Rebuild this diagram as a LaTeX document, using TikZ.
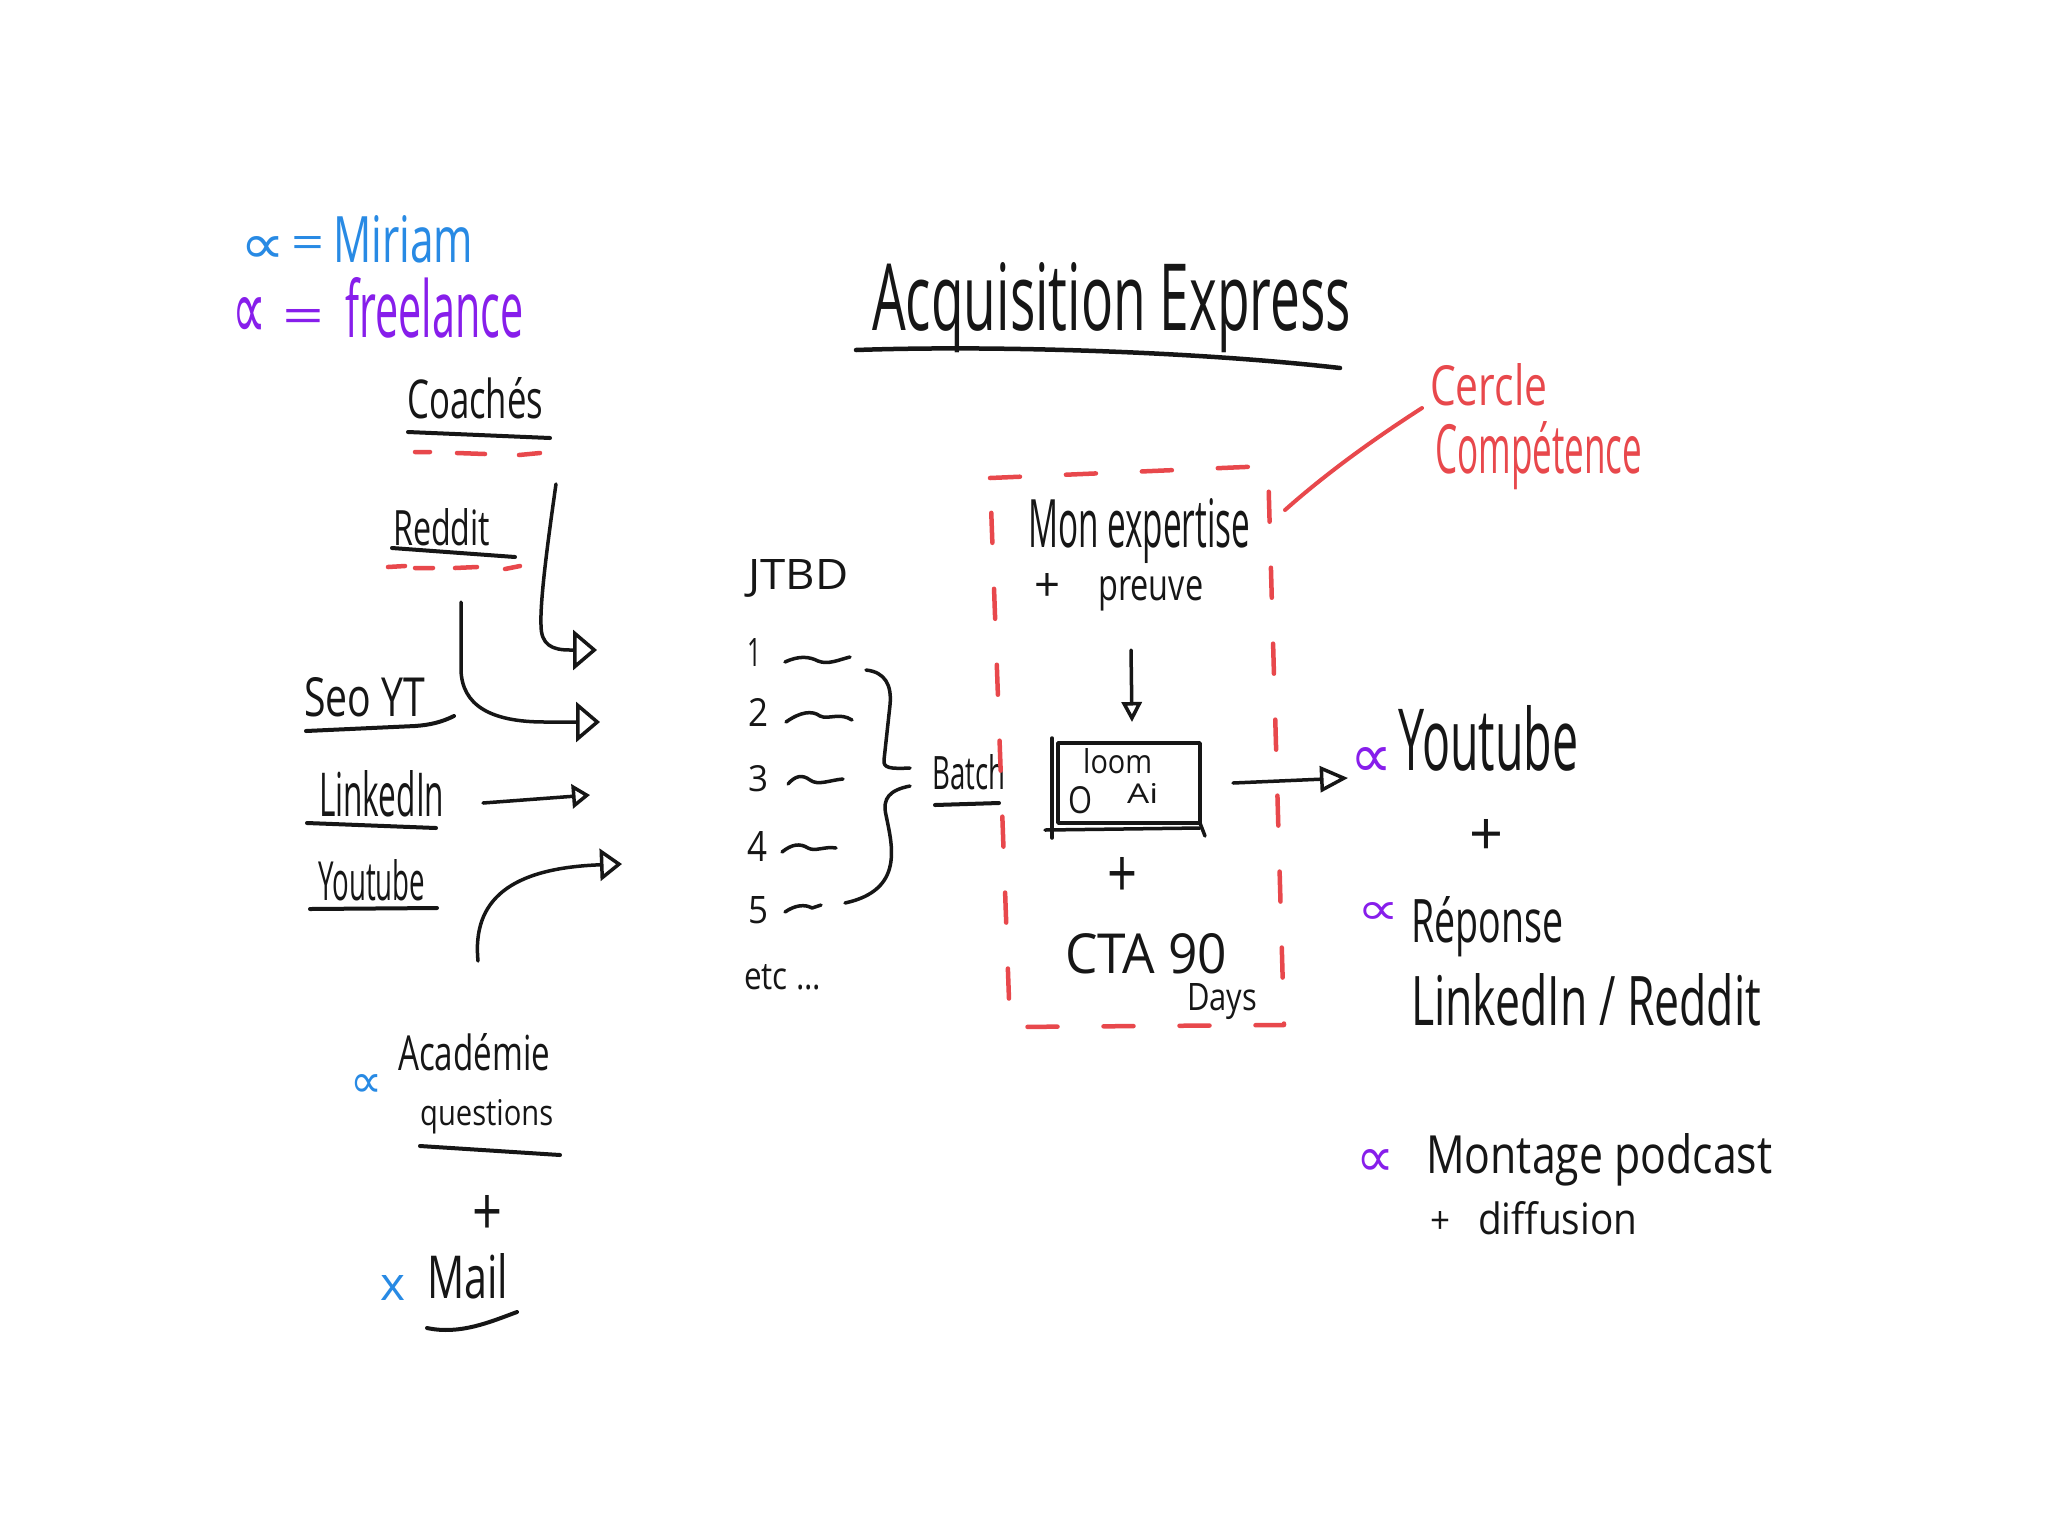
\documentclass[tikz,border=0pt]{standalone}
\usepackage{fontspec}
\setmainfont{Open Sans}
\newfontfamily\symf{DejaVu Sans}
\usepackage{graphicx}
\usetikzlibrary{arrows.meta}
\definecolor{inkblue}{RGB}{40,138,228}
\definecolor{inkpurple}{RGB}{135,30,235}
\definecolor{inkred}{RGB}{232,72,76}
\definecolor{ink}{RGB}{22,22,22}
\newcommand\hw[3]{\resizebox{#1pt}{#2pt}{#3}}
\begin{document}
\begin{tikzpicture}[x=1pt,y=-1pt,line cap=round,line join=round,
  txt/.style={inner sep=0pt,anchor=base west,text=ink},
  ctr/.style={inner sep=0pt,anchor=center,text=ink},
  pen/.style={draw=ink,line width=4pt},
  thin pen/.style={draw=ink,line width=3.5pt},
  redpen/.style={draw=inkred,line width=4.5pt},
  arrbig/.style={thin pen,-{Triangle[open,length=24pt,width=40pt,line width=3.5pt]}},
  arrmid/.style={thin pen,-{Triangle[open,length=22pt,width=32pt,line width=3.5pt]}},
  arrsmall/.style={thin pen,-{Triangle[open,length=18pt,width=24pt,line width=3.5pt]}}]
\fill[white] (0,0) rectangle (2048,1535);
\useasboundingbox (0,0) rectangle (2048,1535);

% legend
\node[ctr,text=inkblue] (propA) at (263,250) {\hw{45}{27}{\symf ∝}};
\node[ctr,text=inkblue] (eqA) at (308,247) {\hw{33}{22}{=}};
\node[txt,text=inkblue] (miriam) at (333,262) {\hw{140}{47}{Miriam}};
\node[ctr,text=inkpurple] (propB) at (250,318) {\hw{34}{42}{\symf ∝}};
\node[ctr,text=inkpurple] (eqB) at (304,321) {\hw{42}{24}{=}};
\node[txt,text=inkpurple] (freelance) at (345,337) {\hw{178}{60}{freelance}};

% title
\node[txt] (title) at (872,330) {\hw{479}{68}{Acquisition Express}};
\draw[pen,line width=4.5pt] (856,350) .. controls (1000,345) and (1200,352) .. (1340,368);

% left sources
\node[txt] (coaches) at (407,418) {\hw{136}{41}{Coachés}};
\draw[pen] (408,432) -- (550,438);
\draw[redpen] (415,452) -- (430,452) (457,453) -- (485,454) (519,455) -- (540,453);
\node[txt] (reddit) at (393,545) {\hw{97}{37}{Reddit}};
\draw[pen] (392,548) -- (515,557);
\draw[redpen] (388,567) -- (405,566) (415,568) -- (433,568) (455,568) -- (477,567) (505,569) -- (520,566);
\node[txt] (seoyt) at (304,716) {\hw{121}{39}{Seo YT}};
\draw[pen] (306,731) -- (415,726) .. controls (430,725) and (442,722) .. (454,716);
\node[txt] (linkedin) at (319,816) {\hw{125}{46}{LinkedIn}};
\draw[pen] (307,823) -- (436,828);
\node[txt] (youtubeL) at (318,900) {\hw{107}{41}{Youtube}};
\draw[pen] (310,909) -- (437,908);

% arrows
\coordinate (a1s) at (556,484); \coordinate (a1e) at (597,650);
\draw[arrbig] (a1s) .. controls (548,540) and (540,600) .. (541,625) .. controls (541,645) and (552,650) .. (570,650) -- (a1e);
\coordinate (a2s) at (461,602); \coordinate (a2e) at (600,722);
\draw[arrbig] (a2s) -- (461,670) .. controls (462,705) and (490,722) .. (545,722) -- (a2e);
\coordinate (a3s) at (483,803); \coordinate (a3e) at (590,795);
\draw[arrsmall] (a3s) -- (a3e);
\coordinate (a4s) at (478,961); \coordinate (a4e) at (622,864);
\draw[arrmid] (a4s) .. controls (472,900) and (510,868) .. (a4e);

% JTBD list
\node[txt] (jtbd) at (748,589) {\hw{100}{30}{JTBD}};
\node[txt] (n1) at (747,666) {\hw{14}{28}{1}};
\node[txt] (n2) at (748,726) {\hw{20}{28}{2}};
\node[txt] (n3) at (748,791) {\hw{20}{26}{3}};
\node[txt] (n4) at (747,861) {\hw{20}{30}{4}};
\node[txt] (n5) at (748,923) {\hw{20}{27}{5}};
\node[txt] (etc) at (744,989) {\hw{77}{25}{etc ...}};
\draw[thin pen] (785,662) .. controls (800,655) and (810,657) .. (818,661) .. controls (828,665) and (838,660) .. (850,657);
\draw[thin pen] (786,722) .. controls (800,712) and (812,710) .. (820,716) .. controls (828,720) and (840,712) .. (852,720);
\draw[thin pen] (788,784) .. controls (795,776) and (802,774) .. (810,780) .. controls (818,786) and (830,780) .. (843,779);
\draw[thin pen] (782,852) .. controls (792,844) and (800,843) .. (808,848) .. controls (815,852) and (825,846) .. (836,848);
\draw[thin pen] (785,912) .. controls (795,905) and (805,904) .. (812,908) -- (821,905);
% braces
\draw[thin pen] (866,670) .. controls (885,672) and (892,685) .. (890,705) -- (884,760) .. controls (883,768) and (890,769) .. (910,768);
\draw[thin pen] (910,786) .. controls (890,790) and (882,798) .. (886,815) .. controls (892,845) and (905,890) .. (845,903);
\node[txt] (batch) at (932,789) {\hw{73}{35}{Batch}};
\draw[pen] (935,805) -- (999,803);

% red box
\draw[redpen,dash pattern=on 30pt off 46pt] (990,478) -- (1268,466) -- (1284,1025) -- (1010,1027) -- cycle;
\coordinate (rl1) at (1285,510); \coordinate (rl2) at (1422,408);
\draw[redpen,line width=4pt] (rl1) .. controls (1330,470) and (1380,435) .. (rl2);
\node[txt,text=inkred] (cercle) at (1430,405) {\hw{117}{42}{Cercle}};
\node[txt,text=inkred] (competence) at (1435,473) {\hw{207}{52}{Compétence}};

\node[txt] (expertise) at (1028,547) {\hw{222}{49}{Mon expertise}};
\node[ctr] (plus1) at (1047,587) {\hw{26}{28}{+}};
\node[txt] (preuve) at (1098,600) {\hw{105}{24}{preuve}};
\coordinate (a5s) at (1131,650); \coordinate (a5e) at (1132,722);
\draw[thin pen,-{Triangle[open,length=20pt,width=20pt,line width=3.5pt]}] (a5s) -- (a5e);

\node[draw=ink,line width=3.5pt,minimum width=142pt,minimum height=80pt,inner sep=0pt] (loombox) at (1129,783) {};
\draw[thin pen] (1052,738) -- (1052,838);
\draw[thin pen] (1045,830) -- (1200,828);
\draw[thin pen] (1200,823) -- (1205,836);
\node[txt] (loom) at (1083,773) {\hw{69}{25}{loom}};
\node[ctr] (loomO) at (1080,800) {\hw{24}{27}{O}};
\node[txt] (ai) at (1127,803) {\hw{31}{20}{Ai}};
\node[ctr] (plus2) at (1122,877) {\hw{30}{40}{+}};
\node[txt] (cta) at (1065,973) {\hw{162}{40}{CTA 90}};
\node[txt] (days) at (1187,1010) {\hw{70}{27}{Days}};

\coordinate (a6s) at (1233,783); \coordinate (a6e) at (1348,778);
\draw[thin pen,-{Triangle[open,length=28pt,width=26pt,line width=3.5pt]}] (a6s) -- (a6e);

% right outputs
\node[ctr,text=inkpurple] (propC) at (1371,762) {\hw{42}{30}{\symf ∝}};
\node[txt] (youtubeR) at (1398,770) {\hw{180}{65}{Youtube}};
\node[ctr] (plus3) at (1486,837) {\hw{34}{36}{+}};
\node[ctr,text=inkpurple] (propD) at (1378,913) {\hw{42}{22}{\symf ∝}};
\node[txt] (reponse) at (1411,942) {\hw{152}{46}{Réponse}};
\node[txt] (lireddit) at (1411,1025) {\hw{350}{52}{LinkedIn / Reddit}};
\node[ctr,text=inkpurple] (propE) at (1375,1163) {\hw{38}{27}{\symf ∝}};
\node[txt] (montage) at (1426,1173) {\hw{346}{40}{Montage podcast}};
\node[ctr] (plus4) at (1440,1222) {\hw{20}{22}{+}};
\node[txt] (diffusion) at (1478,1234) {\hw{159}{33}{diffusion}};

% bottom left
\node[ctr,text=inkblue] (propF) at (367,1086) {\hw{32}{23}{\symf ∝}};
\node[txt] (academie) at (398,1070) {\hw{152}{37}{Académie}};
\node[txt] (questions) at (420,1125) {\hw{133}{26}{questions}};
\draw[pen] (420,1146) -- (560,1155);
\node[ctr] (plus5) at (487,1215) {\hw{30}{40}{+}};
\node[ctr,text=inkblue] (xmark) at (393,1288) {\hw{25}{25}{x}};
\node[txt] (mail) at (427,1298) {\hw{81}{45}{Mail}};
\draw[pen] (427,1328) .. controls (460,1335) and (490,1322) .. (517,1312);
\end{tikzpicture}
\end{document}
